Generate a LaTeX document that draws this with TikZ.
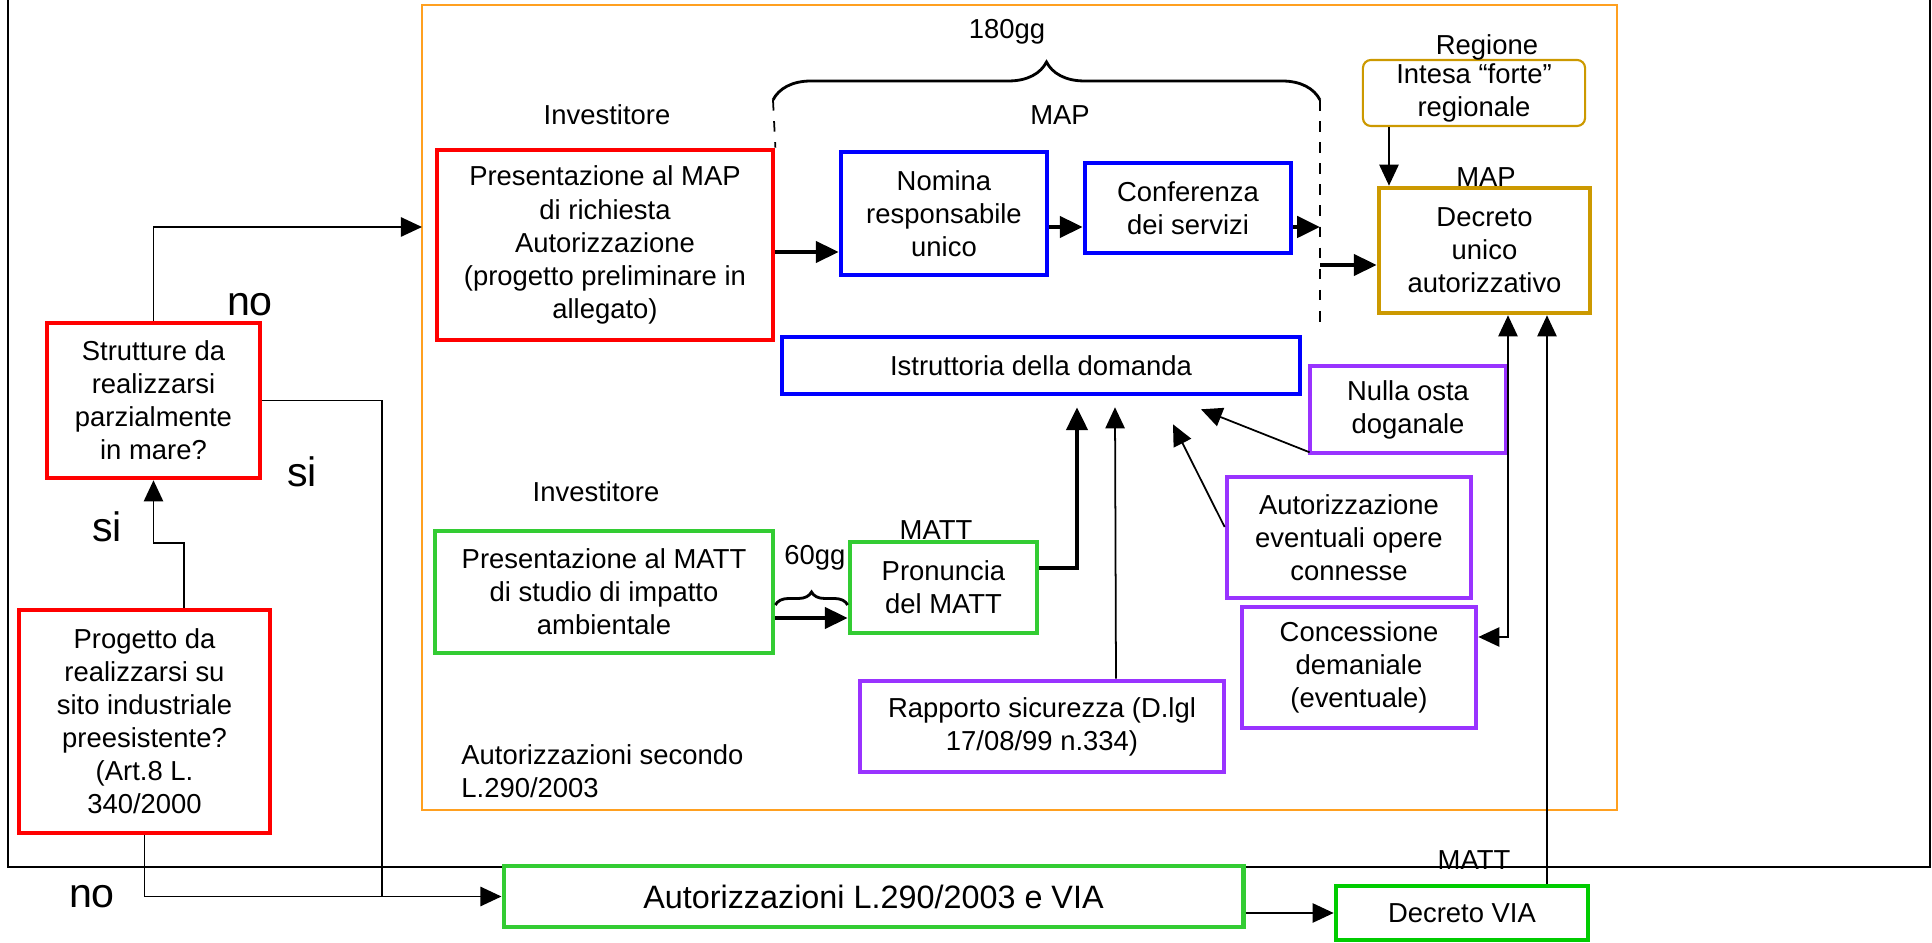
\documentclass[tikz,border=0pt]{standalone}
\usepackage{fontspec}
\setmainfont{Liberation Sans}
\usetikzlibrary{arrows.meta,calc,decorations.pathreplacing}

\definecolor{boxred}{RGB}{255,0,0}
\definecolor{boxblue}{RGB}{0,0,255}
\definecolor{boxgreen}{RGB}{51,204,51}
\definecolor{viagreen}{RGB}{0,204,0}
\definecolor{boxpurple}{RGB}{153,51,255}
\definecolor{boxgold}{RGB}{204,153,0}
\definecolor{frameorange}{RGB}{255,160,32}

\begin{document}
\begin{tikzpicture}[x=0.01cm, y=-0.01cm,
        font=\fontsize{7.8}{9.4}\selectfont,
        box/.style={draw, fill=white, line width=1.3pt, align=center, inner sep=0pt},
        redbox/.style={box, draw=boxred},
        bluebox/.style={box, draw=boxblue},
        greenbox/.style={box, draw=boxgreen},
        viabox/.style={box, draw=viagreen},
        purplebox/.style={box, draw=boxpurple},
        goldbox/.style={box, draw=boxgold},
        intesabox/.style={box, draw=boxgold, line width=0.6pt, rounded corners=0.08cm},
        big/.style={font=\fontsize{11.7}{14}\selectfont},
        thin/.style={line width=0.5pt},
        arr/.style={thin, -{Triangle[length=6pt,width=5.5pt]}},
        thickarr/.style={line width=1.2pt, -{Triangle[length=6.5pt,width=6pt]}},
        bracket/.style={decorate, line width=0.8pt}]
    \useasboundingbox (0,0) rectangle (1932,943);

    % cornici
    \draw[line width=0.6pt] (8,0) -- (8,867) -- (1930,867) -- (1930,0);
    \draw[frameorange, line width=0.6pt] (422,5) rectangle (1617,810);

    % percorso MAP
    \node[redbox, minimum width=3.36cm, minimum height=1.9cm] (pmap) at (605,245) {Presentazione al MAP\\di richiesta\\Autorizzazione\\(progetto preliminare in\\allegato)};
    \node[bluebox, minimum width=2.06cm, minimum height=1.23cm] (nomina) at (944,213.5) {Nomina\\responsabile\\unico};
    \node[bluebox, minimum width=2.06cm, minimum height=0.9cm] (conf) at (1188,208) {Conferenza\\dei servizi};
    \node[bluebox, minimum width=5.18cm, minimum height=0.57cm] (istr) at (1041,365.5) {Istruttoria della domanda};
    \node[intesabox, minimum width=2.22cm, minimum height=0.66cm] (intesa) at (1474,93) {Intesa “forte”\\regionale};
    \node[goldbox, minimum width=2.11cm, minimum height=1.25cm] (decreto) at (1484.5,250.5) {Decreto\\unico\\autorizzativo};

    % pareri
    \node[purplebox, minimum width=1.96cm, minimum height=0.87cm] (nulla) at (1408,409.5) {Nulla osta\\doganale};
    \node[purplebox, minimum width=2.44cm, minimum height=1.21cm] (opere) at (1349,537.5) {Autorizzazione\\eventuali opere\\connesse};
    \node[purplebox, minimum width=2.34cm, minimum height=1.21cm] (conc) at (1359,667.5) {Concessione\\demaniale\\(eventuale)};
    \node[purplebox, minimum width=3.64cm, minimum height=0.91cm] (rapp) at (1042,726.5) {Rapporto sicurezza (D.lgl\\17/08/99 n.334)};

    % percorso MATT
    \node[greenbox, minimum width=3.38cm, minimum height=1.22cm] (pmatt) at (604,592) {Presentazione al MATT\\di studio di impatto\\ambientale};
    \node[greenbox, minimum width=1.87cm, minimum height=0.91cm] (pron) at (943.5,587.5) {Pronuncia\\del MATT};

    % domande
    \node[redbox, minimum width=2.13cm, minimum height=1.55cm] (strutt) at (153.5,400.5) {Strutture da\\realizzarsi\\parzialmente\\in mare?};
    \node[redbox, minimum width=2.51cm, minimum height=2.23cm] (prog) at (144.5,721.5) {Progetto da\\realizzarsi su\\sito industriale\\preesistente?\\(Art.8 L.\\340/2000};

    % in basso
    \node[greenbox, minimum width=7.39cm, minimum height=0.61cm, font=\fontsize{9.2}{11}\selectfont] (aut) at (873.5,896.5) {Autorizzazioni L.290/2003 e VIA};
    \node[viabox, minimum width=2.52cm, minimum height=0.54cm] (via) at (1462,913) {Decreto VIA};

    % etichette
    \node (lbl180) at (1007,32) {180gg};
    \node (lblInvA) at (607,115) {Investitore};
    \node (lblMapA) at (1060,115) {MAP};
    \node (lblReg) at (1487,47) {Regione};
    \node (lblMapB) at (1486,177) {MAP};
    \node (lblInvB) at (596,492) {Investitore};
    \node (lblMattA) at (936,530) {MATT};
    \node (lbl60) at (815,558) {60gg};
    \node[anchor=west, align=left] (lblLegge) at (449,771) {Autorizzazioni secondo\\L.290/2003};
    \node (lblMattB) at (1474,860) {MATT};
    \node[big] (lblNoA) at (250,305) {no};
    \node[big] (lblSiA) at (302,472) {si};
    \node[big] (lblSiB) at (107,527) {si};
    \node[big] (lblNoB) at (92,897) {no};

    % 180gg
    \coordinate (bl) at (773,100);
    \coordinate (br) at (1320,100);
    \coordinate (brb) at (1320,327);
    \draw[thin, dashed] (bl) -- (pmap.north east);
    \draw[thin, dashed] (br) -- (brb);
    \draw[bracket, decoration={brace, amplitude=0.38cm}] (bl) -- (br);
    \draw[bracket, decoration={brace, amplitude=0.13cm}] ($(pmatt.east)+(0,13)$) -- ($(pron.west)+(0,17.5)$);

    % frecce MAP
    \coordinate (rowA) at (0,252);
    \coordinate (rowB) at (0,227);
    \coordinate (rowC) at (0,265);
    \draw[thickarr] (pmap.east |- rowA) -- (nomina.west |- rowA);
    \draw[thickarr] (nomina.east |- rowB) -- (conf.west |- rowB);
    \draw[thickarr] (conf.east |- rowB) -- (br |- rowB);
    \draw[thickarr] (br |- rowC) -- (decreto.west |- rowC);
    \draw[arr] ($(intesa.south)+(-85,0)$) -- ($(decreto.north)+(-95.5,0)$);

    % verso istruttoria
    \draw[thickarr] (pmatt.east |- 0,618) -- (pron.west |- 0,618);
    \draw[thickarr] ($(pron.east)+(0,-19.5)$) -| ($(istr.south)+(36,11)$);
    \draw[arr] ($(rapp.north)+(74,0)$) -- ($(istr.south)+(74,11)$);
    \draw[arr] ($(opere.west)+(0,-10.5)$) -- ($(istr.south)+(132,28)$);
    \draw[arr] ($(nulla.south west)+(2,-3)$) -- ($(istr.south)+(160,13)$);

    % verso decreto
    \draw[thin, {Triangle[length=6pt,width=5.5pt]}-{Triangle[length=6pt,width=5.5pt]}] ($(conc.east)+(0,-30.5)$) -| ($(decreto.south)+(23.5,0)$);
    \draw[arr] ($(via.north)+(85,0)$) -- ($(decreto.south)+(62.5,0)$);

    % domande
    \coordinate (entry) at (422,227);
    \coordinate (join) at (382,897);
    \draw[arr] (strutt.north) |- (entry);
    \draw[thin] (strutt.east) -| (join);
    \draw[arr] (prog.south) |- (aut.west);
    \draw[arr] ($(prog.north)+(39.5,0)$) |- ($(strutt.south)+(0,63)$) -- (strutt.south);
    \draw[arr] ($(aut.east)+(0,16.5)$) -- (via.west);
\end{tikzpicture}
\end{document}
